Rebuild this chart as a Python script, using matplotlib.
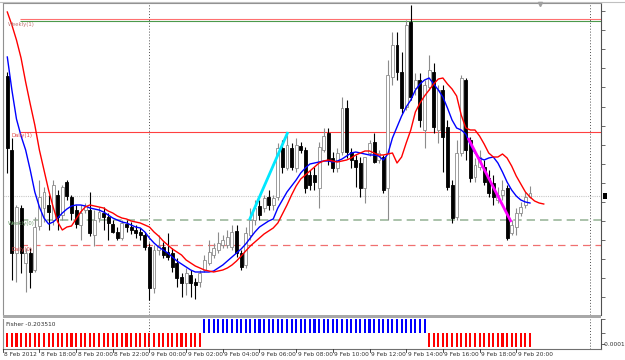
import matplotlib
matplotlib.use("Agg")
import matplotlib.pyplot as plt
from matplotlib.lines import Line2D
from matplotlib.patches import Rectangle

plt.rcParams["font.family"] = ["DejaVu Sans"]

# 15-minute candles, 8 Feb 2012 16:15 -> 9 Feb 2012 20:45
opens = [1.32927, 1.32853, 1.32750, 1.32795, 1.32740, 1.32750, 1.32733, 1.32777, 1.32795, 1.32798,
         1.32783, 1.32808, 1.32788, 1.32821, 1.32806, 1.32793, 1.32778, 1.32793, 1.32793, 1.32768,
         1.32785, 1.32790, 1.32786, 1.32779, 1.32771, 1.32765, 1.32779, 1.32776, 1.32773, 1.32771,
         1.32768, 1.32756, 1.32715, 1.32753, 1.32756, 1.32751, 1.32750, 1.32740, 1.32726, 1.32720,
         1.32728, 1.32721, 1.32721, 1.32733, 1.32740, 1.32748, 1.32753, 1.32758, 1.32758, 1.32756,
         1.32772, 1.32750, 1.32738, 1.32768, 1.32783, 1.32797, 1.32795, 1.32806, 1.32798, 1.32806,
         1.32855, 1.32835, 1.32855, 1.32835, 1.32857, 1.32853, 1.32828, 1.32828, 1.32815, 1.32853,
         1.32870, 1.32845, 1.32835, 1.32851, 1.32895, 1.32851, 1.32843, 1.32840, 1.32815, 1.32850,
         1.32861, 1.32843, 1.32846, 1.32815, 1.32926, 1.32958, 1.32931, 1.32896, 1.32981, 1.32915,
         1.32923, 1.32873, 1.32916, 1.32931, 1.32873, 1.32913, 1.32876, 1.32818, 1.32786, 1.32850,
         1.32923, 1.32863, 1.32826, 1.32836, 1.32836, 1.32825, 1.32820, 1.32803, 1.32808, 1.32815,
         1.32770, 1.32776, 1.32790, 1.32798, 1.32806]
highs = [1.32931, 1.32865, 1.32798, 1.32798, 1.32755, 1.32755, 1.32786, 1.32823, 1.32816, 1.32808,
         1.32823, 1.32813, 1.32818, 1.32823, 1.32808, 1.32798, 1.32798, 1.32800, 1.32811, 1.32793,
         1.32796, 1.32796, 1.32790, 1.32783, 1.32776, 1.32783, 1.32783, 1.32781, 1.32778, 1.32775,
         1.32771, 1.32760, 1.32758, 1.32768, 1.32761, 1.32770, 1.32755, 1.32745, 1.32730, 1.32735,
         1.32733, 1.32725, 1.32733, 1.32748, 1.32763, 1.32760, 1.32771, 1.32768, 1.32773, 1.32778,
         1.32778, 1.32753, 1.32776, 1.32795, 1.32803, 1.32803, 1.32808, 1.32813, 1.32808, 1.32860,
         1.32863, 1.32868, 1.32860, 1.32865, 1.32861, 1.32856, 1.32833, 1.32836, 1.32861, 1.32875,
         1.32875, 1.32851, 1.32855, 1.32906, 1.32903, 1.32855, 1.32848, 1.32846, 1.32846, 1.32863,
         1.32870, 1.32853, 1.32848, 1.32943, 1.32971, 1.32971, 1.32951, 1.32983, 1.32998, 1.32930,
         1.32930, 1.32923, 1.32948, 1.32940, 1.32918, 1.32918, 1.32883, 1.32823, 1.32863, 1.32928,
         1.32925, 1.32866, 1.32845, 1.32853, 1.32843, 1.32833, 1.32828, 1.32816, 1.32823, 1.32818,
         1.32783, 1.32795, 1.32801, 1.32811, 1.32817]
lows = [1.32830, 1.32723, 1.32721, 1.32730, 1.32711, 1.32715, 1.32731, 1.32773, 1.32781, 1.32773,
        1.32778, 1.32773, 1.32783, 1.32803, 1.32783, 1.32775, 1.32763, 1.32790, 1.32767, 1.32757,
        1.32781, 1.32773, 1.32763, 1.32770, 1.32763, 1.32763, 1.32771, 1.32769, 1.32765, 1.32763,
        1.32753, 1.32703, 1.32710, 1.32748, 1.32745, 1.32743, 1.32731, 1.32716, 1.32706, 1.32708,
        1.32706, 1.32704, 1.32716, 1.32731, 1.32738, 1.32745, 1.32750, 1.32755, 1.32755, 1.32753,
        1.32746, 1.32733, 1.32735, 1.32763, 1.32778, 1.32783, 1.32791, 1.32793, 1.32793, 1.32803,
        1.32830, 1.32833, 1.32833, 1.32831, 1.32850, 1.32810, 1.32813, 1.32813, 1.32795, 1.32851,
        1.32838, 1.32831, 1.32831, 1.32848, 1.32845, 1.32835, 1.32816, 1.32806, 1.32800, 1.32847,
        1.32840, 1.32840, 1.32810, 1.32783, 1.32918, 1.32923, 1.32890, 1.32893, 1.32903, 1.32908,
        1.32876, 1.32855, 1.32913, 1.32870, 1.32860, 1.32831, 1.32813, 1.32780, 1.32783, 1.32847,
        1.32843, 1.32821, 1.32821, 1.32833, 1.32818, 1.32806, 1.32798, 1.32800, 1.32803, 1.32763,
        1.32768, 1.32768, 1.32787, 1.32795, 1.32805]
closes = [1.32855, 1.32750, 1.32796, 1.32750, 1.32750, 1.32731, 1.32776, 1.32806, 1.32811, 1.32791,
          1.32818, 1.32786, 1.32816, 1.32807, 1.32790, 1.32779, 1.32790, 1.32797, 1.32770, 1.32783,
          1.32791, 1.32786, 1.32780, 1.32771, 1.32765, 1.32780, 1.32776, 1.32773, 1.32770, 1.32768,
          1.32756, 1.32715, 1.32753, 1.32757, 1.32748, 1.32746, 1.32736, 1.32725, 1.32720, 1.32730,
          1.32720, 1.32718, 1.32730, 1.32743, 1.32751, 1.32755, 1.32760, 1.32763, 1.32766, 1.32771,
          1.32750, 1.32736, 1.32770, 1.32783, 1.32795, 1.32788, 1.32805, 1.32798, 1.32805, 1.32855,
          1.32836, 1.32858, 1.32836, 1.32858, 1.32853, 1.32815, 1.32818, 1.32821, 1.32856, 1.32867,
          1.32843, 1.32835, 1.32850, 1.32895, 1.32851, 1.32843, 1.32836, 1.32815, 1.32846, 1.32860,
          1.32841, 1.32850, 1.32813, 1.32928, 1.32958, 1.32931, 1.32895, 1.32978, 1.32906, 1.32923,
          1.32883, 1.32918, 1.32933, 1.32876, 1.32913, 1.32866, 1.32816, 1.32785, 1.32850, 1.32925,
          1.32853, 1.32825, 1.32838, 1.32846, 1.32821, 1.32810, 1.32806, 1.32808, 1.32813, 1.32765,
          1.32778, 1.32790, 1.32796, 1.32806, 1.32810]

ma_fast = [1.32946, 1.32913, 1.32884, 1.32867, 1.32853, 1.32833, 1.32811, 1.32796, 1.32785, 1.32779,
           1.32781, 1.32785, 1.32790, 1.32794, 1.32797, 1.32798, 1.32798, 1.32797, 1.32795, 1.32794,
           1.32793, 1.32791, 1.32788, 1.32785, 1.32783, 1.32781, 1.32780, 1.32778, 1.32776, 1.32775,
           1.32771, 1.32765, 1.32760, 1.32756, 1.32753, 1.32750, 1.32746, 1.32742, 1.32739, 1.32736,
           1.32733, 1.32731, 1.32731, 1.32731, 1.32731, 1.32732, 1.32735, 1.32738, 1.32742, 1.32746,
           1.32750, 1.32754, 1.32759, 1.32765, 1.32771, 1.32776, 1.32779, 1.32782, 1.32784, 1.32795,
           1.32803, 1.32811, 1.32817, 1.32823, 1.32830, 1.32835, 1.32839, 1.32840, 1.32841, 1.32842,
           1.32842, 1.32841, 1.32842, 1.32844, 1.32847, 1.32850, 1.32851, 1.32850, 1.32849, 1.32848,
           1.32848, 1.32847, 1.32843, 1.32849, 1.32865, 1.32876, 1.32887, 1.32896, 1.32903, 1.32913,
           1.32919, 1.32923, 1.32925, 1.32919, 1.32913, 1.32906, 1.32895, 1.32883, 1.32875, 1.32873,
           1.32869, 1.32858, 1.32850, 1.32845, 1.32843, 1.32845, 1.32846, 1.32840, 1.32831, 1.32821,
           1.32813, 1.32807, 1.32803, 1.32801, 1.32800]
# slow average is drawn shifted 3 bars forward
ma_slow = [1.32991, 1.32978, 1.32963, 1.32945, 1.32921, 1.32899, 1.32878, 1.32853, 1.32833, 1.32813,
           1.32796, 1.32781, 1.32773, 1.32776, 1.32777, 1.32784, 1.32791, 1.32796, 1.32798, 1.32797,
           1.32796, 1.32795, 1.32792, 1.32790, 1.32787, 1.32785, 1.32784, 1.32782, 1.32781, 1.32780,
           1.32778, 1.32776, 1.32771, 1.32767, 1.32762, 1.32758, 1.32754, 1.32751, 1.32748, 1.32743,
           1.32740, 1.32737, 1.32735, 1.32733, 1.32732, 1.32731, 1.32732, 1.32733, 1.32735, 1.32738,
           1.32742, 1.32747, 1.32752, 1.32757, 1.32761, 1.32765, 1.32769, 1.32772, 1.32775, 1.32780,
           1.32789, 1.32798, 1.32808, 1.32817, 1.32824, 1.32828, 1.32832, 1.32836, 1.32840, 1.32842,
           1.32843, 1.32842, 1.32841, 1.32842, 1.32843, 1.32845, 1.32848, 1.32850, 1.32852, 1.32852,
           1.32850, 1.32848, 1.32848, 1.32849, 1.32850, 1.32840, 1.32846, 1.32860, 1.32873, 1.32891,
           1.32900, 1.32907, 1.32913, 1.32919, 1.32924, 1.32925, 1.32919, 1.32914, 1.32907, 1.32888,
           1.32875, 1.32873, 1.32873, 1.32867, 1.32859, 1.32850, 1.32846, 1.32846, 1.32849, 1.32845,
           1.32837, 1.32827, 1.32819, 1.32811, 1.32806, 1.32802, 1.32800, 1.32799]

# Fisher histogram as runs of (sign, bar count)
fisher_runs = [(-1, 43), (1, 49), (-1, 23)]
fisher_label = "Fisher -0.203510"

# pivot levels
weekly_r1 = 1.32984
weekly_r1b = 1.32982
daily_r1 = 1.32871
bid_level = 1.32807
weekly_p = 1.32783
daily_p = 1.32758

# hand-drawn trend lines (bar index, price)
cyan_line = ([52.8, 61.2], [1.32783, 1.32871])
magenta_line = ([100.5, 109.9], [1.32865, 1.32781])

time_ticks = [7, 15, 23, 31, 39, 47, 55, 63, 71, 79, 87, 95, 103, 111]
time_labels = ["8 Feb 18:00", "8 Feb 20:00", "8 Feb 22:00", "9 Feb 00:00", "9 Feb 02:00",
               "9 Feb 04:00", "9 Feb 06:00", "9 Feb 08:00", "9 Feb 10:00", "9 Feb 12:00",
               "9 Feb 14:00", "9 Feb 16:00", "9 Feb 18:00", "9 Feb 20:00"]
separators = [31, 127]
price_ticks = [1.32992, 1.32973, 1.32954, 1.32935, 1.32916, 1.32896, 1.32877, 1.32858,
               1.32839, 1.32820, 1.32801, 1.32782, 1.32763, 1.32744, 1.32725, 1.32706]

W, H = 625, 360
X0, DX = 7.3, 4.585          # pixel of bar 0, pixels per bar
LEFT, RIGHT = 3, 601

fig = plt.figure(figsize=(W / 100, H / 100), dpi=100)
fig.patch.set_facecolor("white")


def px_axes(x0, y0, x1, y1):
    return fig.add_axes([x0 / W, 1 - y1 / H, (x1 - x0) / W, (y1 - y0) / H])


def px_line(x0, y0, x1, y1, **kw):
    fig.add_artist(Line2D([x0 / W, x1 / W], [1 - y0 / H, 1 - y1 / H],
                          transform=fig.transFigure, **kw))


def bar_of_px(px):
    return (px - X0) / DX


xlim = (bar_of_px(LEFT), bar_of_px(RIGHT))

# ---- main price window ----
ax = px_axes(LEFT, 3, RIGHT, 315)
ax.set_xlim(*xlim)
ax.set_ylim(1.32688, 1.33000)
ax.set_facecolor("white")

n = len(closes)
idx = list(range(n))
for i in idx:
    o, h, l, c = opens[i], highs[i], lows[i], closes[i]
    bull = c >= o
    col = "#8c8c8c" if bull else "black"
    ax.vlines(i, l, h, color=col, lw=0.8, zorder=2)
    body = max(abs(c - o), 0.000012)
    ax.add_patch(Rectangle((i - 0.32, min(o, c)), 0.64, body,
                           facecolor="white" if bull else "black",
                           edgecolor=col, lw=0.6, zorder=3))

ax.axhline(bid_level, color="#c8c8c8", lw=0.8, ls=(0, (1, 1)), zorder=1)
start = bar_of_px(20)
ax.hlines([weekly_r1], start, xlim[1], color="#ff7070", lw=0.8, zorder=1)
ax.hlines([weekly_r1b], start, xlim[1], color="#4c9a4c", lw=0.8, zorder=1)
ax.hlines([daily_r1], start, xlim[1], color="#ff4040", lw=0.8, zorder=1)
ax.hlines([weekly_p], start, xlim[1], color="#9cb89c", lw=1.2, linestyles=[(0, (5, 3))], zorder=1)
ax.hlines([daily_p], start, xlim[1], color="#f07070", lw=0.9, linestyles=[(0, (6, 4))], zorder=1)

ax.plot(range(len(ma_fast)), ma_fast, color="#0000ff", lw=1.0, zorder=4)
ax.plot(range(len(ma_slow)), ma_slow, color="#ff0000", lw=1.0, zorder=4)
ax.plot(*cyan_line, color="#00e8ff", lw=2.0, zorder=5, solid_capstyle="butt")
ax.plot(*magenta_line, color="#ff00ff", lw=2.0, zorder=5, solid_capstyle="butt")

lbl = dict(fontsize=3.8, va="center", ha="left", zorder=6)
ax.text(bar_of_px(8), weekly_r1 - 0.00005, "Weekly(1)", color="#c07070", **lbl)
ax.text(bar_of_px(11), daily_r1 - 0.00004, "Daily(1)", color="#e04848", **lbl)
ax.text(bar_of_px(8), weekly_p - 0.00003, "Weekly(0)", color="#6a9a6a", **lbl)
ax.text(bar_of_px(11), daily_p - 0.00004, "Daily(0)", color="#e04848", **lbl)

for s in separators:
    ax.axvline(s, color="#505050", lw=0.7, ls=(0, (1, 2)), zorder=1)

ax.set_xticks([])
ax.yaxis.tick_right()
ax.set_yticks(price_ticks)
ax.set_yticklabels([])
ax.tick_params(axis="y", length=3, width=0.6, color="#505050")
for side in ("left", "top"):
    ax.spines[side].set_color("#909090")
ax.spines["right"].set_color("#505050")
ax.spines["bottom"].set_visible(False)
for sp in ax.spines.values():
    sp.set_linewidth(0.8)

# ---- Fisher sub-window ----
fx = px_axes(LEFT, 318.5, RIGHT, 348.5)
fx.set_xlim(*xlim)
fx.set_ylim(-1.107, 1.036)
pos = 0
for sign, count in fisher_runs:
    xs = list(range(pos, pos + count))
    fx.bar(xs, [sign] * count, width=0.45, color="#0000ff" if sign > 0 else "#ff0000",
           linewidth=0)
    pos += count
for s in separators:
    fx.axvline(s, color="#505050", lw=0.7, ls=(0, (1, 2)))
fx.text(bar_of_px(6), 0.62, fisher_label, fontsize=4.2, color="#303030", va="center")
fx.set_xticks([])
fx.yaxis.tick_right()
fx.set_yticks([1.0, 0.0, -0.8])
fx.set_yticklabels([])
fx.tick_params(axis="y", length=3, width=0.6, color="#505050")
fx.spines["left"].set_color("#909090")
fx.spines["top"].set_visible(False)
fx.spines["right"].set_color("#505050")
fx.spines["bottom"].set_color("#707070")
for sp in fx.spines.values():
    sp.set_linewidth(0.8)
fig.text(603 / W, 1 - 344 / H, "-0.0001", fontsize=4.2, color="#303030", va="center")

# window separator and frame
fig.add_artist(Rectangle((LEFT / W, 1 - 318 / H), (RIGHT - LEFT) / W, 3 / H,
                         transform=fig.transFigure, color="#a8a8a8", lw=0))
px_line(0, 1.5, 625, 1.5, color="#c0c0c0", lw=0.8)

# bid marker and chart-shift marker
fig.add_artist(Rectangle((603 / W, 1 - 199 / H), 4 / W, 6 / H,
                         transform=fig.transFigure, color="black", lw=0))
fig.add_artist(Line2D([540 / W], [1 - 4 / H], marker="v", markersize=3, color="#a0a0a0",
                      transform=fig.transFigure))

# time axis
fig.text(4 / W, 1 - 354 / H, "8 Feb 2012", fontsize=4.2, color="#303030", va="center")
px_line(3, 349, 3, 352, color="#303030", lw=0.6)
for t, lab in zip(time_ticks, time_labels):
    xp = X0 + DX * t
    px_line(xp, 349, xp, 352, color="#303030", lw=0.6)
    fig.text((xp + 1.5) / W, 1 - 354 / H, lab, fontsize=4.2, color="#303030", va="center")

fig.savefig("out.png", dpi=100)
